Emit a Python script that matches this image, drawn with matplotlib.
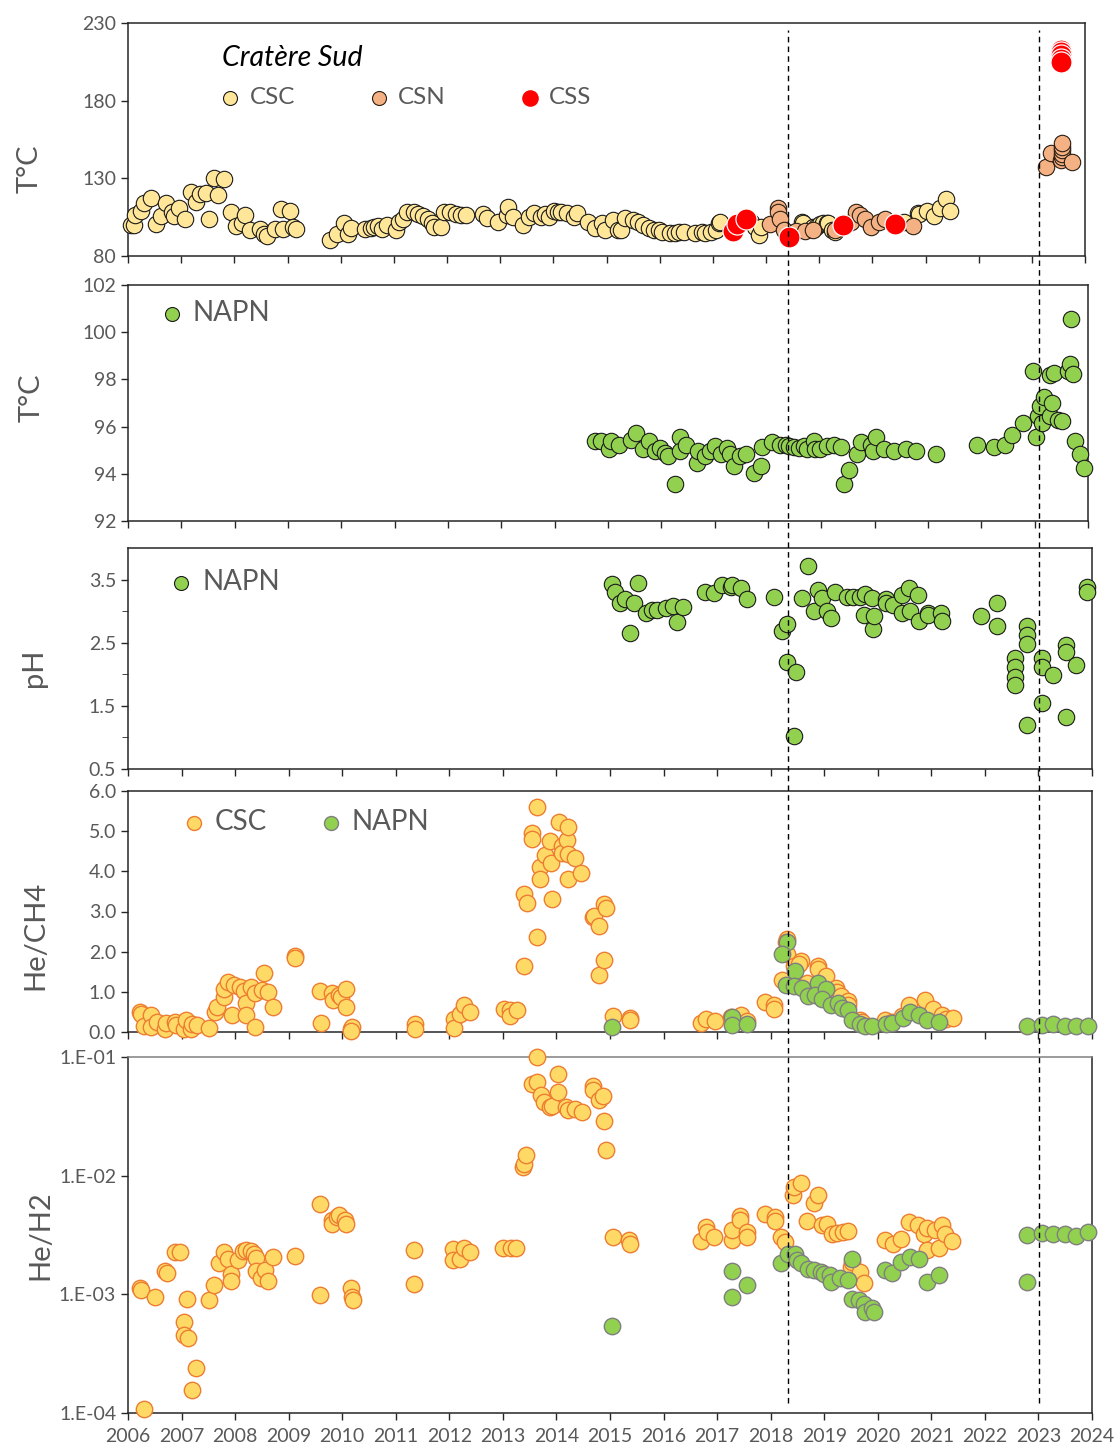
import numpy as np
import matplotlib
matplotlib.use("Agg")
import matplotlib.pyplot as plt
from matplotlib.lines import Line2D
from matplotlib.ticker import FixedLocator, NullFormatter, FuncFormatter
from matplotlib.transforms import blended_transform_factory

plt.rcParams['font.family'] = ['Lato', 'DejaVu Sans']

# ---- Cratere Sud temperatures (decimal year, degC) ----
csc_t_date = [2006.05, 2006.11, 2006.13, 2006.25, 2006.31, 2006.43, 2006.53, 2006.63, 2006.72, 2006.82,
              2006.86, 2006.95, 2007.07, 2007.19, 2007.27, 2007.35, 2007.47, 2007.52, 2007.62, 2007.69,
              2007.80, 2007.94, 2008.04, 2008.15, 2008.20, 2008.30, 2008.49, 2008.56, 2008.61, 2008.77,
              2008.88, 2008.91, 2009.05, 2009.11, 2009.16, 2009.80, 2009.93, 2010.07, 2010.13, 2010.20,
              2010.45, 2010.57, 2010.62, 2010.70, 2010.77, 2010.87, 2011.05, 2011.10, 2011.17, 2011.24,
              2011.37, 2011.45, 2011.54, 2011.64, 2011.71, 2011.76, 2011.89, 2011.94, 2012.06, 2012.16,
              2012.26, 2012.35, 2012.67, 2012.75, 2012.95, 2013.12, 2013.15, 2013.25, 2013.43, 2013.55,
              2013.63, 2013.77, 2013.85, 2013.92, 2014.02, 2014.08, 2014.14, 2014.25, 2014.38, 2014.45,
              2014.65, 2014.78, 2014.92, 2014.98, 2015.12, 2015.22, 2015.28, 2015.35, 2015.49, 2015.59,
              2015.69, 2015.79, 2015.89, 2015.99, 2016.05, 2016.19, 2016.29, 2016.36, 2016.46, 2016.66,
              2016.79, 2016.86, 2016.96, 2017.06, 2017.11, 2017.13, 2017.34, 2017.72, 2017.80, 2017.86,
              2017.90, 2018.67, 2018.70, 2018.88, 2018.94, 2019.02, 2019.07, 2019.15, 2019.17, 2019.24,
              2019.29, 2019.53, 2019.98, 2020.60, 2020.85, 2020.88, 2021.02, 2021.16, 2021.27, 2021.38,
              2021.47]
csc_t_val = [99.8, 99.8, 106.7, 108.8, 114.4, 117.2, 100.4, 105.6, 114.2, 108.4,
             105.6, 110.6, 103.7, 121.1, 114.6, 119.8, 120.7, 104.1, 129.9, 119.4,
             129.3, 108.4, 99.2, 101.5, 106.3, 96.6, 97.6, 94.4, 93.1, 97.4,
             110.1, 97.4, 108.8, 98.7, 97.4, 90.1, 94.0, 101.5, 94.4, 98.1,
             97.6, 98.1, 98.7, 99.4, 97.6, 100.2, 97.0, 101.9, 104.1, 108.4,
             108.4, 106.9, 105.6, 104.1, 101.3, 98.7, 98.7, 108.4, 108.4, 107.3,
             106.7, 106.7, 107.3, 104.5, 101.9, 106.3, 111.6, 105.2, 100.2, 105.2,
             108.0, 105.2, 107.3, 105.2, 108.8, 108.5, 108.5, 107.5, 105.3, 107.5,
             102.1, 97.8, 101.0, 96.7, 103.2, 96.7, 96.7, 104.3, 103.2, 102.1,
             100.0, 97.8, 96.7, 96.7, 95.7, 94.6, 94.6, 95.7, 95.7, 95.0,
             95.7, 95.0, 95.7, 96.7, 101.0, 102.0, 96.6, 102.0, 98.9, 93.3,
             98.7, 102.1, 101.3, 98.7, 98.9, 100.9, 101.0, 101.3, 101.0, 96.7,
             95.5, 100.9, 99.2, 102.0, 107.5, 107.3, 109.0, 105.6, 110.6, 116.4,
             108.8]

csn_t_date = [2018.08, 2018.22, 2018.23, 2018.26, 2018.33, 2018.57, 2018.74, 2018.88, 2019.29, 2019.60,
              2019.70, 2019.77, 2019.87, 2019.98, 2020.12, 2020.23, 2020.76, 2023.27, 2023.36, 2023.55,
              2023.57, 2023.57, 2023.57, 2023.57, 2023.57, 2023.76]
csn_t_val = [100.9, 110.6, 108.4, 104.1, 96.6, 95.9, 95.9, 96.6, 96.6, 102.0,
             108.4, 106.3, 104.1, 98.7, 102.0, 104.1, 99.2, 137.5, 146.1, 141.8,
             143.5, 145.5, 148.0, 150.0, 152.5, 140.7]

css_t_date = [2017.37, 2017.45, 2017.62, 2018.43, 2019.45, 2020.43,
              2023.55, 2023.55, 2023.55, 2023.55, 2023.55]
css_t_val = [95.9, 100.9, 103.5, 92.3, 99.8, 100.9,
             212.8, 211.5, 209.5, 207.0, 205.2]

# ---- NAPN temperature ----
napn_t_date = [2014.75, 2014.87, 2015.02, 2015.06, 2015.21, 2015.44, 2015.53, 2015.66, 2015.77, 2015.88,
               2015.97, 2016.06, 2016.13, 2016.25, 2016.35, 2016.35, 2016.47, 2016.66, 2016.69, 2016.82,
               2016.91, 2017.01, 2017.11, 2017.23, 2017.29, 2017.36, 2017.48, 2017.58, 2017.73, 2017.86,
               2017.89, 2018.08, 2018.23, 2018.33, 2018.39, 2018.48, 2018.58, 2018.67, 2018.73, 2018.86,
               2018.89, 2018.98, 2019.11, 2019.24, 2019.36, 2019.42, 2019.52, 2019.66, 2019.74, 2019.93,
               2019.96, 2020.02, 2020.18, 2020.36, 2020.58, 2020.77, 2021.15, 2021.92, 2022.23, 2022.45,
               2022.58, 2022.78, 2022.96, 2023.02, 2023.07, 2023.10, 2023.13, 2023.18, 2023.28, 2023.28,
               2023.33, 2023.36, 2023.43, 2023.51, 2023.62, 2023.67, 2023.68, 2023.71, 2023.76, 2023.85,
               2023.92]
napn_t_val = [95.38, 95.38, 95.03, 95.38, 95.24, 95.45, 95.73, 95.06, 95.38, 94.96,
              95.10, 94.89, 94.75, 93.55, 95.55, 94.96, 95.24, 94.46, 94.96, 94.75,
              94.96, 95.17, 94.82, 95.10, 94.82, 94.32, 94.75, 94.85, 94.04, 94.32,
              95.13, 95.35, 95.24, 95.21, 95.17, 95.13, 95.10, 95.17, 95.07, 95.38,
              95.07, 95.07, 95.17, 95.24, 95.14, 93.55, 94.14, 94.82, 95.35, 95.24,
              94.96, 95.55, 95.03, 94.96, 95.03, 94.96, 94.85, 95.24, 95.14, 95.24,
              95.66, 96.15, 98.37, 95.55, 96.44, 96.86, 96.15, 97.24, 98.20, 96.44,
              97.00, 98.27, 96.30, 96.25, 98.34, 98.65, 100.55, 98.23, 95.38, 94.85,
              94.25]

# ---- NAPN pH ----
napn_ph_date = [2015.03, 2015.09, 2015.19, 2015.28, 2015.37, 2015.45, 2015.52, 2015.67, 2015.78, 2015.87,
                2016.05, 2016.18, 2016.25, 2016.36, 2016.78, 2016.95, 2017.09, 2017.25, 2017.28, 2017.44,
                2017.56, 2018.07, 2018.22, 2018.30, 2018.31, 2018.43, 2018.47, 2018.58, 2018.69, 2018.81,
                2018.89, 2018.96, 2019.05, 2019.13, 2019.21, 2019.43, 2019.54, 2019.67, 2019.75, 2019.77,
                2019.89, 2019.92, 2019.93, 2020.15, 2020.15, 2020.29, 2020.46, 2020.46, 2020.59, 2020.60,
                2020.76, 2020.77, 2020.93, 2020.94, 2021.18, 2021.19, 2021.92, 2022.23, 2022.23, 2022.57,
                2022.57, 2022.57, 2022.57, 2022.79, 2022.79, 2022.79, 2022.79, 2023.06, 2023.06, 2023.06,
                2023.28, 2023.51, 2023.51, 2023.51, 2023.71, 2023.91, 2023.91]
napn_ph_val = [3.43, 3.31, 3.13, 3.20, 2.65, 3.13, 3.45, 2.97, 3.02, 3.02,
               3.05, 3.08, 2.83, 3.06, 3.31, 3.29, 3.42, 3.39, 3.41, 3.37,
               3.20, 3.23, 2.68, 2.20, 2.80, 1.02, 2.04, 3.21, 3.71, 3.01,
               3.34, 3.21, 3.00, 2.89, 3.31, 3.23, 3.22, 3.23, 2.94, 3.27,
               3.21, 2.71, 2.93, 3.20, 3.13, 3.10, 3.25, 2.97, 3.36, 3.00,
               3.25, 2.84, 2.97, 2.94, 2.97, 2.84, 2.92, 3.13, 2.77, 2.26,
               2.11, 1.96, 1.83, 2.77, 2.63, 2.48, 1.19, 2.26, 2.12, 1.54,
               1.99, 2.47, 2.35, 1.33, 2.15, 3.39, 3.30]

# ---- He/CH4 ----
csc_ch4_date = [2006.23, 2006.25, 2006.30, 2006.43, 2006.43, 2006.55, 2006.70, 2006.71, 2006.87, 2006.90,
                2007.04, 2007.09, 2007.17, 2007.20, 2007.29, 2007.52, 2007.62, 2007.67, 2007.80, 2007.80,
                2007.87, 2007.94, 2007.97, 2008.10, 2008.16, 2008.20, 2008.20, 2008.30, 2008.38, 2008.38,
                2008.50, 2008.54, 2008.62, 2008.70, 2009.11, 2009.11, 2009.59, 2009.60, 2009.81, 2009.83,
                2009.94, 2009.97, 2010.07, 2010.07, 2010.16, 2010.19, 2010.16, 2011.36, 2011.36, 2012.08,
                2012.08, 2012.20, 2012.28, 2012.39, 2013.02, 2013.14, 2013.14, 2013.27, 2013.39, 2013.45,
                2013.39, 2013.54, 2013.54, 2013.63, 2013.63, 2013.70, 2013.70, 2013.78, 2013.88, 2013.90,
                2013.92, 2014.04, 2014.10, 2014.10, 2014.19, 2014.21, 2014.21, 2014.21, 2014.35, 2014.46,
                2014.68, 2014.70, 2014.80, 2014.80, 2014.88, 2014.93, 2014.88, 2015.05, 2015.38, 2015.37,
                2016.70, 2016.80, 2016.96, 2017.25, 2017.44, 2017.56, 2017.90, 2018.07, 2018.07, 2018.22,
                2018.31, 2018.29, 2018.31, 2018.44, 2018.57, 2018.52, 2018.67, 2018.89, 2018.89, 2019.04,
                2019.22, 2019.24, 2019.32, 2019.45, 2019.45, 2019.66, 2019.71, 2020.14, 2020.27, 2020.45,
                2020.58, 2020.88, 2021.03, 2021.20, 2021.27, 2021.40]
csc_ch4_val = [0.50, 0.46, 0.14, 0.42, 0.13, 0.25, 0.08, 0.22, 0.25, 0.17,
               0.08, 0.29, 0.08, 0.21, 0.17, 0.11, 0.50, 0.62, 0.87, 1.08,
               1.25, 0.42, 1.17, 1.13, 1.03, 0.71, 0.43, 1.13, 0.96, 0.13,
               1.04, 1.46, 1.00, 0.61, 1.88, 1.83, 1.02, 0.23, 0.96, 0.79,
               0.92, 0.86, 1.08, 0.61, 0.08, 0.13, 0.03, 0.21, 0.08, 0.33,
               0.11, 0.46, 0.67, 0.50, 0.57, 0.54, 0.39, 0.54, 3.44, 3.20,
               1.64, 4.96, 4.81, 5.60, 2.37, 4.11, 3.82, 4.41, 4.75, 4.20,
               3.32, 5.23, 4.63, 4.46, 4.78, 5.11, 4.42, 3.80, 4.32, 3.95,
               2.86, 2.90, 2.65, 1.43, 3.18, 3.08, 1.80, 0.39, 0.34, 0.30,
               0.22, 0.32, 0.27, 0.37, 0.43, 0.27, 0.74, 0.68, 0.57, 1.29,
               2.32, 2.24, 1.93, 1.64, 1.76, 1.70, 1.22, 1.65, 1.57, 1.40,
               1.10, 0.99, 0.89, 0.76, 0.68, 0.31, 0.24, 0.31, 0.24, 0.39,
               0.68, 0.79, 0.57, 0.43, 0.32, 0.34]

napn_ch4_date = [2015.03, 2017.27, 2017.27, 2017.56, 2018.31, 2018.21, 2018.45, 2018.28, 2018.43, 2018.59,
                 2018.69, 2018.89, 2018.83, 2019.04, 2018.96, 2019.13, 2019.26, 2019.33, 2019.45, 2019.52,
                 2019.66, 2019.76, 2019.90, 2020.15, 2020.27, 2020.47, 2020.60, 2020.77, 2020.92, 2021.15,
                 2022.79, 2023.06, 2023.27, 2023.50, 2023.71, 2023.92]
napn_ch4_val = [0.12, 0.37, 0.18, 0.21, 2.24, 1.95, 1.53, 1.18, 1.14, 1.10,
                0.89, 1.22, 0.93, 1.06, 0.81, 0.68, 0.71, 0.60, 0.54, 0.29,
                0.21, 0.16, 0.16, 0.21, 0.22, 0.35, 0.49, 0.43, 0.31, 0.24,
                0.14, 0.18, 0.21, 0.16, 0.14, 0.16]

# ---- He/H2 ----
csc_h2_date = [2006.22, 2006.24, 2006.30, 2006.51, 2006.70, 2006.72, 2006.87, 2006.97, 2007.04, 2007.04,
               2007.10, 2007.12, 2007.19, 2007.27, 2007.52, 2007.60, 2007.69, 2007.79, 2007.87, 2007.92,
               2007.92, 2008.06, 2008.14, 2008.20, 2008.30, 2008.35, 2008.39, 2008.39, 2008.48, 2008.55,
               2008.62, 2008.71, 2009.11, 2009.59, 2009.59, 2009.81, 2009.81, 2009.90, 2009.94, 2010.06,
               2010.07, 2010.16, 2010.18, 2010.20, 2011.34, 2011.34, 2012.06, 2012.06, 2012.19, 2012.28,
               2012.38, 2013.01, 2013.15, 2013.25, 2013.38, 2013.39, 2013.44, 2013.55, 2013.63, 2013.64,
               2013.72, 2013.77, 2013.88, 2013.92, 2014.02, 2014.02, 2014.18, 2014.21, 2014.35, 2014.47,
               2014.68, 2014.68, 2014.79, 2014.86, 2014.88, 2014.93, 2015.05, 2015.36, 2015.37, 2016.69,
               2016.79, 2016.81, 2016.95, 2017.27, 2017.27, 2017.43, 2017.43, 2017.55, 2017.55, 2017.89,
               2018.08, 2018.08, 2018.20, 2018.27, 2018.41, 2018.44, 2018.56, 2018.68, 2018.80, 2018.88,
               2018.96, 2019.06, 2019.14, 2019.24, 2019.35, 2019.45, 2019.50, 2019.52, 2019.67, 2019.74,
               2020.13, 2020.28, 2020.44, 2020.58, 2020.75, 2020.87, 2020.92, 2020.92, 2021.06, 2021.15,
               2021.19, 2021.26, 2021.38]
csc_h2_val = [1.14e-3, 1.09e-3, 1.09e-4, 9.5e-4, 1.56e-3, 1.50e-3, 2.28e-3, 2.28e-3, 5.85e-4, 4.5e-4,
              9.1e-4, 4.3e-4, 1.57e-4, 2.4e-4, 8.9e-4, 1.19e-3, 1.84e-3, 2.27e-3, 2.0e-3, 1.49e-3,
              1.29e-3, 1.96e-3, 2.32e-3, 2.35e-3, 2.31e-3, 2.2e-3, 2.04e-3, 1.57e-3, 1.36e-3, 1.60e-3,
              1.29e-3, 2.07e-3, 2.09e-3, 5.73e-3, 9.8e-4, 4.2e-3, 3.9e-3, 4.5e-3, 4.64e-3, 4.2e-3,
              3.9e-3, 1.12e-3, 9.5e-4, 9.0e-4, 2.38e-3, 1.23e-3, 2.4e-3, 1.96e-3, 2.0e-3, 2.46e-3,
              2.27e-3, 2.46e-3, 2.46e-3, 2.46e-3, 1.18e-2, 1.26e-2, 1.48e-2, 5.96e-2, 1.0e-1, 6.15e-2,
              4.75e-2, 4.18e-2, 3.79e-2, 3.9e-2, 7.24e-2, 5.07e-2, 3.79e-2, 3.55e-2, 3.62e-2, 3.44e-2,
              5.66e-2, 5.3e-2, 4.31e-2, 4.66e-2, 2.87e-2, 1.66e-2, 3.04e-3, 2.89e-3, 2.67e-3, 2.8e-3,
              3.69e-3, 3.36e-3, 3.04e-3, 2.85e-3, 3.46e-3, 4.54e-3, 4.2e-3, 3.33e-3, 3.04e-3, 4.72e-3,
              4.49e-3, 4.17e-3, 3.04e-3, 2.76e-3, 6.82e-3, 8.0e-3, 8.6e-3, 4.15e-3, 5.88e-3, 6.82e-3,
              3.81e-3, 3.95e-3, 3.24e-3, 3.3e-3, 3.37e-3, 3.43e-3, 1.70e-3, 1.87e-3, 1.54e-3, 1.25e-3,
              2.85e-3, 2.67e-3, 2.94e-3, 4.07e-3, 3.81e-3, 3.24e-3, 2.38e-3, 3.6e-3, 3.46e-3, 2.44e-3,
              3.81e-3, 3.24e-3, 2.8e-3]

napn_h2_date = [2015.03, 2017.27, 2017.27, 2017.55, 2018.20, 2018.32, 2018.46, 2018.49, 2018.57, 2018.70,
                2018.80, 2018.94, 2019.00, 2019.11, 2019.12, 2019.30, 2019.45, 2019.52, 2019.52, 2019.65,
                2019.74, 2019.76, 2019.89, 2019.93, 2020.13, 2020.27, 2020.44, 2020.60, 2020.77, 2020.92,
                2021.15, 2022.79, 2022.79, 2023.06, 2023.27, 2023.50, 2023.71, 2023.92]
napn_h2_val = [5.41e-4, 1.57e-3, 9.5e-4, 1.20e-3, 1.84e-3, 2.2e-3, 2.2e-3, 1.96e-3, 1.84e-3, 1.64e-3,
               1.6e-3, 1.54e-3, 1.49e-3, 1.45e-3, 1.27e-3, 1.38e-3, 1.32e-3, 2.0e-3, 9.2e-4, 8.9e-4,
               8.3e-4, 7.1e-4, 7.6e-4, 7.1e-4, 1.6e-3, 1.5e-3, 1.87e-3, 2.05e-3, 2.0e-3, 1.27e-3,
               1.45e-3, 3.14e-3, 1.27e-3, 3.29e-3, 3.24e-3, 3.24e-3, 3.08e-3, 3.35e-3]

# event dates marked by dashed lines
event_dates = [2018.33, 2023.01]
years = list(range(2006, 2025))

GRAY = '#595959'
W, H = 1115, 1450


def box(left, top, right, bottom):
    return [left / W, 1 - bottom / H, (right - left) / W, (bottom - top) / H]


def style_axis(ax, ylabel, label_right, label_mid, show_years=False):
    ax.set_xlim(2006, 2024)
    ax.set_xticks(years)
    if show_years:
        ax.set_xticklabels([str(y) for y in years])
    else:
        ax.set_xticklabels([])
    ax.tick_params(axis='both', direction='out', length=5, width=1, colors='#262626',
                   labelcolor=GRAY, labelsize=14)
    ax.tick_params(axis='x', pad=6)
    for s in ax.spines.values():
        s.set_color('#262626')
        s.set_linewidth(1.1)
    ax.set_ylabel(ylabel, fontsize=21, color=GRAY)
    # label placed by its right edge and vertical centre, in pixels
    pos = ax.get_position()
    ax.yaxis.set_label_coords((label_right / W - pos.x0) / pos.width,
                              ((1 - label_mid / H) - pos.y0) / pos.height)


fig = plt.figure(figsize=(W / 100, H / 100), dpi=100)

MS = 140
csc1_kw = dict(s=MS, facecolor='#FFE699', edgecolor='#1a1a1a', linewidth=0.8)
csn1_kw = dict(s=MS, facecolor='#F4B183', edgecolor='#2b1d12', linewidth=0.8)
css1_kw = dict(s=230, facecolor='#FF0000', edgecolor='white', linewidth=0.9)
napn_kw = dict(s=MS, facecolor='#92D050', edgecolor='#1a1a1a', linewidth=0.8)
csc4_kw = dict(s=MS, facecolor='#FFD966', edgecolor='#ED7D31', linewidth=1.0)
napn4_kw = dict(s=MS, facecolor='#92D050', edgecolor='#7F7F7F', linewidth=1.0)

# panel 1: Cratere Sud temperatures
ax1 = fig.add_axes(box(128, 23, 1085, 256))
h1 = ax1.scatter(csc_t_date, csc_t_val, zorder=3, **csc1_kw)
h2 = ax1.scatter(csn_t_date, csn_t_val, zorder=4, **csn1_kw)
h3 = ax1.scatter(css_t_date, css_t_val, zorder=5, **css1_kw)
ax1.set_ylim(80, 230)
ax1.set_yticks([80, 130, 180, 230])
style_axis(ax1, 'T°C', 43, 169)
ax1.text(0.098, 0.85, 'Cratère Sud', transform=ax1.transAxes, fontsize=20.5,
         style='italic', color='black', va='center', ha='left')
ax1.legend([h1, h2, h3], ['CSC', 'CSN', 'CSS'], ncol=3, frameon=False,
           loc='center left', bbox_to_anchor=(0.094, 0.68), fontsize=17.5,
           handlelength=1.0, handletextpad=0.3, columnspacing=2.95,
           borderpad=0, borderaxespad=0, markerscale=0.85, labelcolor=GRAY)

# panel 2: NAPN temperature
ax2 = fig.add_axes(box(128, 285, 1088, 521))
h = ax2.scatter(napn_t_date, napn_t_val, zorder=3, **napn_kw)
ax2.set_ylim(92, 102)
ax2.set_yticks(range(92, 103, 2))
style_axis(ax2, 'T°C', 45, 398)
ax2.legend([h], ['NAPN'], frameon=False, loc='center left', bbox_to_anchor=(0.031, 0.88),
           fontsize=20, handlelength=1.0, handletextpad=0.25, borderpad=0, borderaxespad=0,
           markerscale=0.85, labelcolor=GRAY)

# panel 3: NAPN pH
ax3 = fig.add_axes(box(128, 548, 1092, 769))
h = ax3.scatter(napn_ph_date, napn_ph_val, zorder=3, **napn_kw)
ax3.set_ylim(0.5, 4.0)
ax3.set_yticks([0.5, 1.5, 2.5, 3.5])
ax3.yaxis.set_minor_locator(FixedLocator([1.0, 2.0, 3.0]))
ax3.tick_params(axis='y', which='minor', direction='out', length=4, colors='#262626')
style_axis(ax3, 'pH', 47, 668)
ax3.legend([h], ['NAPN'], frameon=False, loc='center left', bbox_to_anchor=(0.041, 0.845),
           fontsize=20, handlelength=1.0, handletextpad=0.25, borderpad=0, borderaxespad=0,
           markerscale=0.85, labelcolor=GRAY)

# panel 4: He/CH4
ax4 = fig.add_axes(box(128, 791, 1092, 1032))
h_csc = ax4.scatter(csc_ch4_date, csc_ch4_val, zorder=3, **csc4_kw)
h_napn = ax4.scatter(napn_ch4_date, napn_ch4_val, zorder=4, **napn4_kw)
ax4.set_ylim(0, 6)
ax4.set_yticks(range(0, 7))
ax4.yaxis.set_major_formatter(FuncFormatter(lambda v, p: f'{v:.1f}'))
style_axis(ax4, 'He/CH4', 48, 935)
ax4.legend([h_csc, h_napn], ['CSC', 'NAPN'], ncol=2, frameon=False, loc='center left',
           bbox_to_anchor=(0.054, 0.87), fontsize=20, handlelength=1.0, handletextpad=0.25,
           columnspacing=1.8, borderpad=0, borderaxespad=0, markerscale=0.85, labelcolor=GRAY)

# panel 5: He/H2 (log)
ax5 = fig.add_axes(box(128, 1057, 1092, 1413))
ax5.scatter(csc_h2_date, csc_h2_val, zorder=3, **csc4_kw)
ax5.scatter(napn_h2_date, napn_h2_val, zorder=4, **napn4_kw)
ax5.set_yscale('log')
ax5.set_ylim(1e-4, 1e-1)
ax5.yaxis.set_major_locator(FixedLocator([1e-4, 1e-3, 1e-2, 1e-1]))
ax5.yaxis.set_minor_formatter(NullFormatter())
ax5.yaxis.set_minor_locator(FixedLocator([]))
ax5.yaxis.set_major_formatter(FuncFormatter(lambda v, p: '1.E-%02d' % round(-np.log10(v))))
style_axis(ax5, 'He/H2', 53, 1235, show_years=True)
ax5.spines['top'].set_color('#808080')

for ax in (ax1, ax2, ax3, ax4, ax5):
    for c in ax.collections:
        c.set_clip_on(False)

# dashed event lines running through all panels
trans = blended_transform_factory(ax5.transData, fig.transFigure)
for d in event_dates:
    fig.add_artist(Line2D([d, d], [1 - 1403 / H, 1 - 30 / H], transform=trans,
                          color='black', linewidth=1.0, linestyle=(0, (4, 3)), zorder=10))

fig.savefig('out.png', dpi=100)
